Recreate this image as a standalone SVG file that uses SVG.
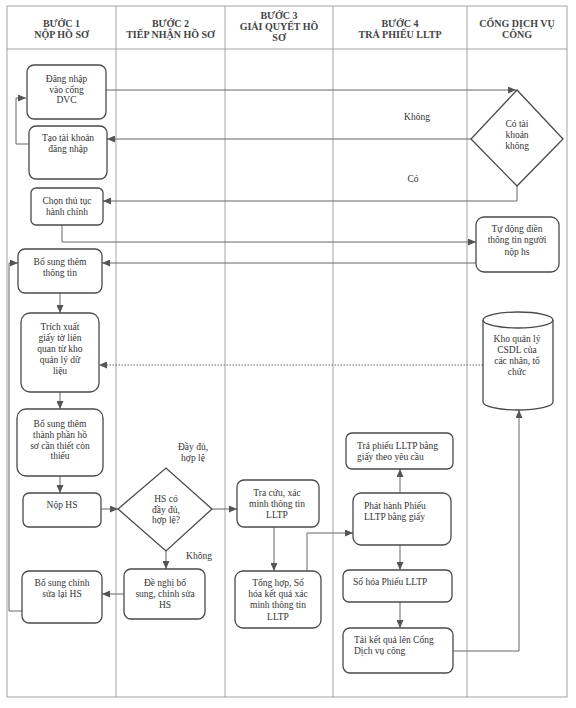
<svg xmlns="http://www.w3.org/2000/svg" width="576" height="708" viewBox="0 0 576 708">
<defs>
<marker id="ah" markerUnits="userSpaceOnUse" markerWidth="8" markerHeight="7" refX="8" refY="3.5" orient="auto">
<path d="M0,0 L8,3.5 L0,7 z" fill="#555"/>
</marker>
<style>
.grid{fill:none;stroke:#9a9a9a;stroke-width:0.9}
.box{fill:#fff;stroke:#4a4a4a;stroke-width:1.3}
.c{fill:none;stroke:#666;stroke-width:1;marker-end:url(#ah)}
.dot{stroke-dasharray:1.5 1.5}
.h{font-family:"Liberation Serif",serif;font-size:10px;font-weight:bold;fill:#444;text-anchor:middle}
.t{font-family:"Liberation Serif",serif;font-size:9.5px;fill:#333;text-anchor:middle}
.tl{font-family:"Liberation Serif",serif;font-size:9.5px;fill:#333}
</style>
</defs>
<rect width="576" height="708" fill="#fff"/>
<g id="table">
<rect class="grid" x="7" y="6" width="560" height="691"/>
<line class="grid" x1="7" y1="49" x2="567" y2="49"/>
<line class="grid" x1="116" y1="6" x2="116" y2="697"/>
<line class="grid" x1="225" y1="6" x2="225" y2="697"/>
<line class="grid" x1="333" y1="6" x2="333" y2="697"/>
<line class="grid" x1="467" y1="6" x2="467" y2="697"/>
<text class="h" x="61.5" y="26.5">BƯỚC 1</text>
<text class="h" x="61.5" y="37.5">NỘP HỒ SƠ</text>
<text class="h" x="170.5" y="26.5">BƯỚC 2</text>
<text class="h" x="170.5" y="37.5">TIẾP NHẬN HỒ SƠ</text>
<text class="h" x="279" y="19">BƯỚC 3</text>
<text class="h" x="279" y="30">GIẢI QUYẾT HỒ</text>
<text class="h" x="279" y="41">SƠ</text>
<text class="h" x="400" y="26.5">BƯỚC 4</text>
<text class="h" x="400" y="37.5">TRẢ PHIẾU LLTP</text>
<text class="h" x="517" y="26.5">CỔNG DỊCH VỤ</text>
<text class="h" x="517" y="37.5">CÔNG</text>
</g>
<g id="connectors">
<path class="c" d="M106,90 H516"/>
<path class="c" d="M471,139 H107"/>
<path class="c" d="M517,186 V201 H103"/>
<path class="c" d="M29,144 H16 V98 H26"/>
<path class="c" d="M62,225 V242 H476"/>
<path class="c" d="M476,263 H102"/>
<path class="c" d="M60,293 V313"/>
<path class="c dot" d="M483,365 H99"/>
<path class="c" d="M60,392 V409"/>
<path class="c" d="M60,476 V493"/>
<path class="c" d="M101,509 H118"/>
<path class="c" d="M212,509 H237"/>
<path class="c" d="M166,551 V569"/>
<path class="c" d="M124,594 H102"/>
<path class="c" d="M22,611 H9 V263 H18"/>
<path class="c" d="M274,527 V571"/>
<path class="c" d="M307,571 V533 H353"/>
<path class="c" d="M400,493 V469"/>
<path class="c" d="M400,545 V570"/>
<path class="c" d="M400,602 V628"/>
<path class="c" d="M453,651 H519 V410"/>
<text class="t" x="417" y="120">Không</text>
<text class="t" x="413" y="182">Có</text>
<text class="t" x="193" y="450">Đầy đủ,</text>
<text class="t" x="193" y="461">hợp lệ</text>
<text class="t" x="199" y="559">Không</text>
</g>
<g id="n1"><rect class="box" x="27" y="65" width="79" height="54" rx="7"/>
<text class="t" x="66.5" y="82">Đăng nhập</text><text class="t" x="66.5" y="92.5">vào cổng</text><text class="t" x="66.5" y="103">DVC</text></g>
<g id="n2"><rect class="box" x="29" y="126" width="78" height="53" rx="7"/>
<text class="t" x="68" y="141">Tạo tài khoản</text><text class="t" x="68" y="152">đăng nhập</text></g>
<g id="n3"><rect class="box" x="31" y="188" width="72" height="37" rx="5"/>
<text class="t" x="67" y="204">Chọn thủ tục</text><text class="t" x="67" y="215">hành chính</text></g>
<g id="n4"><rect class="box" x="18" y="249" width="84" height="44" rx="7"/>
<text class="t" x="60" y="265">Bổ sung thêm</text><text class="t" x="60" y="276">thông tin</text></g>
<g id="n5"><rect class="box" x="21" y="313" width="78" height="79" rx="9"/>
<text class="t" x="60" y="330">Trích xuất</text><text class="t" x="60" y="341">giấy tờ liên</text><text class="t" x="60" y="352">quan từ kho</text><text class="t" x="60" y="363">quản lý dữ</text><text class="t" x="60" y="374">liệu</text></g>
<g id="n6"><rect class="box" x="17" y="409" width="86" height="67" rx="9"/>
<text class="t" x="60" y="427">Bổ sung thêm</text><text class="t" x="60" y="438">thành phần hồ</text><text class="t" x="60" y="449">sơ cần thiết còn</text><text class="t" x="60" y="459">thiếu</text></g>
<g id="n7"><rect class="box" x="23" y="493" width="78" height="34" rx="6"/>
<text class="t" x="62" y="508">Nộp HS</text></g>
<g id="n8"><rect class="box" x="22" y="571" width="80" height="52" rx="7"/>
<text class="t" x="62" y="586">Bổ sung chỉnh</text><text class="t" x="62" y="597">sửa lại HS</text></g>
<g id="d1"><polygon class="box" points="118,509 166,468 212,509 166,551"/>
<text class="t" x="166" y="502">HS có</text><text class="t" x="166" y="512.5">đầy đủ,</text><text class="t" x="166" y="523">hợp lệ?</text></g>
<g id="n9"><rect class="box" x="124" y="569" width="81" height="50" rx="7"/>
<text class="t" x="165" y="586">Đề nghị bổ</text><text class="t" x="165" y="597">sung, chỉnh sửa</text><text class="t" x="165" y="607.5">HS</text></g>
<g id="n10"><rect class="box" x="237" y="480" width="82" height="47" rx="7"/>
<text class="t" x="277" y="496">Tra cứu, xác</text><text class="t" x="277" y="507">minh thông tin</text><text class="t" x="277" y="518">LLTP</text></g>
<g id="n11"><rect class="box" x="235" y="571" width="86" height="57" rx="8"/>
<text class="t" x="278" y="586">Tổng hợp, Số</text><text class="t" x="278" y="597">hóa kết quả xác</text><text class="t" x="278" y="608">minh thông tin</text><text class="t" x="278" y="619.5">LLTP</text></g>
<g id="n12"><rect class="box" x="346" y="433" width="107" height="36" rx="6"/>
<text class="tl" x="357" y="449">Trả phiếu LLTP bằng</text><text class="tl" x="357" y="460">giấy theo yêu cầu</text></g>
<g id="n13"><rect class="box" x="353" y="493" width="98" height="52" rx="8"/>
<text class="tl" x="364" y="509">Phát hành Phiếu</text><text class="tl" x="364" y="520">LLTP bằng giấy</text></g>
<g id="n14"><rect class="box" x="343" y="570" width="109" height="32" rx="6"/>
<text class="tl" x="353" y="585">Số hóa Phiếu LLTP</text></g>
<g id="n15"><rect class="box" x="343" y="628" width="110" height="45" rx="7"/>
<text class="tl" x="354" y="643">Tải kết quả lên Cổng</text><text class="tl" x="354" y="654">Dịch vụ công</text></g>
<g id="d2"><polygon class="box" points="517,90 563,139 517,186 471,139"/>
<text class="t" x="517" y="127">Có tài</text><text class="t" x="517" y="138">khoản</text><text class="t" x="517" y="148.5">không</text></g>
<g id="n16"><rect class="box" x="476" y="217" width="83" height="55" rx="8"/>
<text class="t" x="517" y="232">Tự động điền</text><text class="t" x="517" y="243">thông tin người</text><text class="t" x="517" y="255">nộp hs</text></g>
<g id="db"><path class="box" d="M483,320 V402 A35,8 0 0 0 553,402 V320 A35,8 0 0 0 483,320 Z"/>
<path class="box" d="M483,320 A35,8 0 0 0 553,320" fill="none"/>
<text class="t" x="517" y="342">Kho quản lý</text><text class="t" x="517" y="353">CSDL của</text><text class="t" x="517" y="364">các nhân, tổ</text><text class="t" x="517" y="375">chức</text></g>
</svg>
